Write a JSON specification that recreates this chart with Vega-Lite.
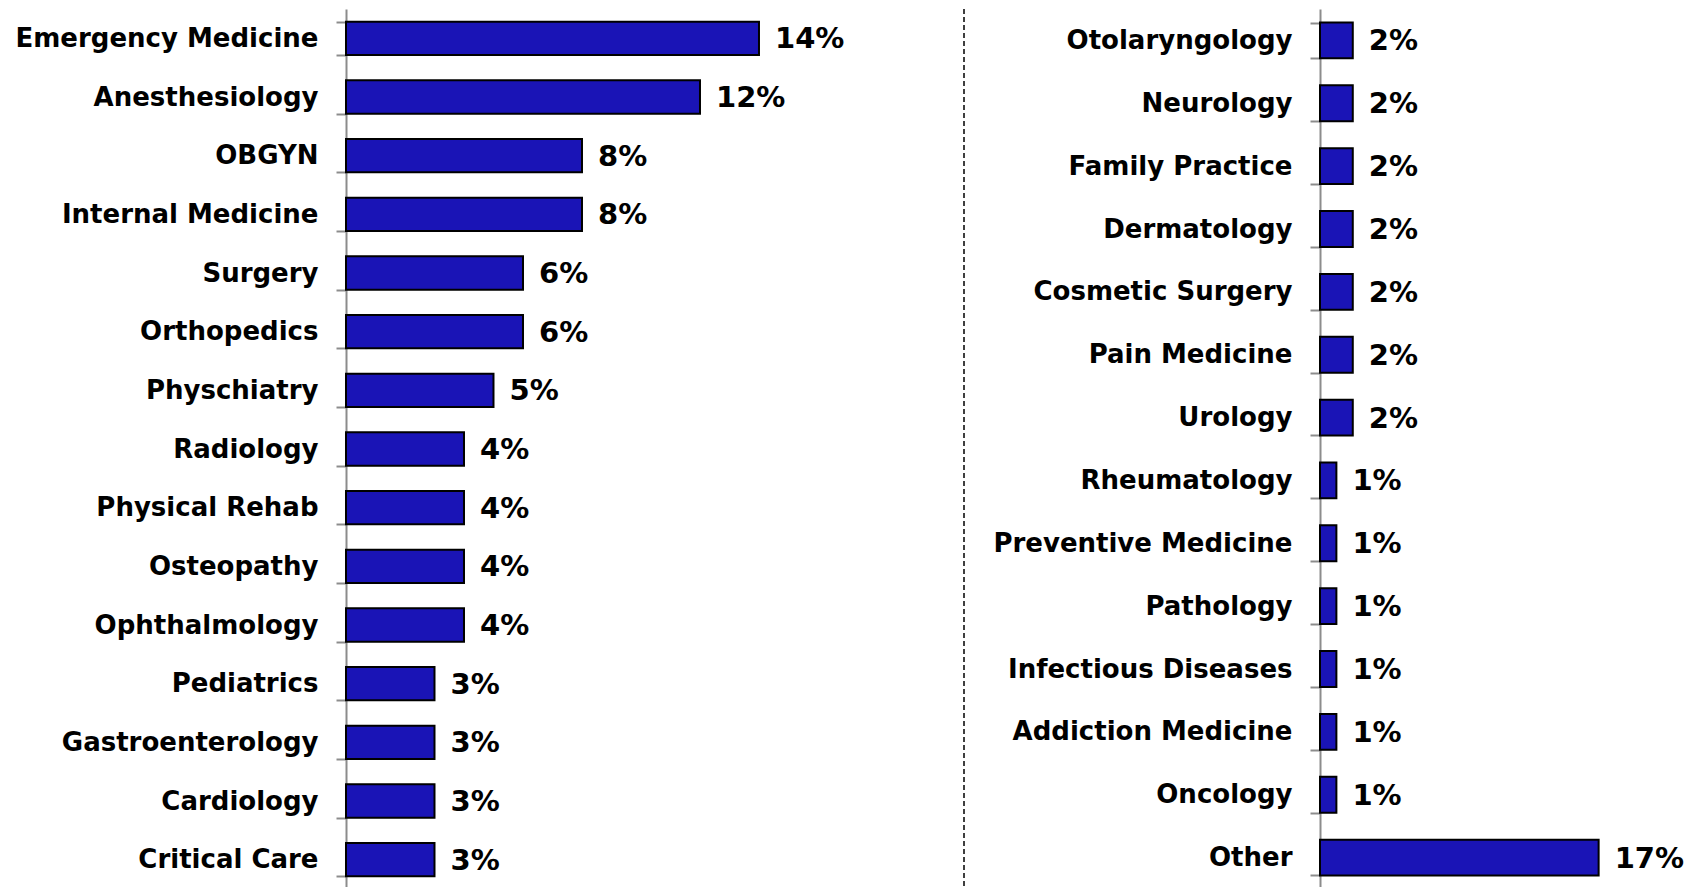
{
  "$schema": "https://vega.github.io/schema/vega-lite/v6.json",
  "background": "white",
  "padding": {"left": 15, "top": -4, "right": 0, "bottom": 0},
  "bounds": "flush",
  "spacing": 356,
  "config": {
    "view": {"stroke": null},
    "font": "DejaVu Sans",
    "axis": {
      "domainColor": "#8c8c8c",
      "domainWidth": 2,
      "tickColor": "#8c8c8c",
      "tickWidth": 2,
      "tickSize": 10,
      "tickBand": "extent",
      "labelPadding": 18,
      "labelFont": "DejaVu Sans",
      "labelFontWeight": "bold",
      "labelFontSize": 26,
      "labelColor": "black",
      "labelLimit": 0,
      "title": null
    }
  },
  "datasets": {
    "left": [
      {"specialty": "Emergency Medicine", "share": 0.14},
      {"specialty": "Anesthesiology", "share": 0.12},
      {"specialty": "OBGYN", "share": 0.08},
      {"specialty": "Internal Medicine", "share": 0.08},
      {"specialty": "Surgery", "share": 0.06},
      {"specialty": "Orthopedics", "share": 0.06},
      {"specialty": "Physchiatry", "share": 0.05},
      {"specialty": "Radiology", "share": 0.04},
      {"specialty": "Physical Rehab", "share": 0.04},
      {"specialty": "Osteopathy", "share": 0.04},
      {"specialty": "Ophthalmology", "share": 0.04},
      {"specialty": "Pediatrics", "share": 0.03},
      {"specialty": "Gastroenterology", "share": 0.03},
      {"specialty": "Cardiology", "share": 0.03},
      {"specialty": "Critical Care", "share": 0.03}
    ],
    "right": [
      {"specialty": "Otolaryngology", "share": 0.02},
      {"specialty": "Neurology", "share": 0.02},
      {"specialty": "Family Practice", "share": 0.02},
      {"specialty": "Dermatology", "share": 0.02},
      {"specialty": "Cosmetic Surgery", "share": 0.02},
      {"specialty": "Pain Medicine", "share": 0.02},
      {"specialty": "Urology", "share": 0.02},
      {"specialty": "Rheumatology", "share": 0.01},
      {"specialty": "Preventive Medicine", "share": 0.01},
      {"specialty": "Pathology", "share": 0.01},
      {"specialty": "Infectious Diseases", "share": 0.01},
      {"specialty": "Addiction Medicine", "share": 0.01},
      {"specialty": "Oncology", "share": 0.01},
      {"specialty": "Other", "share": 0.17}
    ]
  },
  "hconcat": [
    {
      "width": 618,
      "height": 880,
      "layer": [
        {
          "data": {"name": "left"},
          "mark": {"type": "bar", "color": "#1a14b6", "stroke": "black", "strokeWidth": 2},
          "encoding": {
            "y": {"field": "specialty", "type": "nominal", "sort": null, "scale": {"paddingInner": 0.433, "paddingOuter": 0.2165}},
            "x": {"field": "share", "type": "quantitative", "scale": {"domain": [0, 0.2095], "nice": false}, "axis": null}
          }
        },
        {
          "data": {"name": "left"},
          "mark": {"type": "text", "align": "left", "baseline": "middle", "dx": 16, "dy": 1, "font": "DejaVu Sans", "fontWeight": "bold", "fontSize": 29, "color": "black"},
          "encoding": {
            "y": {"field": "specialty", "type": "nominal", "sort": null},
            "x": {"field": "share", "type": "quantitative"},
            "text": {"field": "share", "type": "quantitative", "format": ".0%"}
          }
        },
        {
          "data": {"values": [{}]},
          "mark": {"type": "rule", "color": "black", "strokeWidth": 1.5, "strokeDash": [5, 3]},
          "encoding": {"x": {"datum": 0.2095}}
        }
      ]
    },
    {
      "width": 375,
      "height": 880,
      "layer": [
        {
          "data": {"name": "right"},
          "mark": {"type": "bar", "color": "#1a14b6", "stroke": "black", "strokeWidth": 2},
          "encoding": {
            "y": {"field": "specialty", "type": "nominal", "sort": null, "scale": {"paddingInner": 0.43, "paddingOuter": 0.215}},
            "x": {"field": "share", "type": "quantitative", "scale": {"domain": [0, 0.2288], "nice": false}, "axis": null}
          }
        },
        {
          "data": {"name": "right"},
          "mark": {"type": "text", "align": "left", "baseline": "middle", "dx": 16, "dy": 1, "font": "DejaVu Sans", "fontWeight": "bold", "fontSize": 29, "color": "black"},
          "encoding": {
            "y": {"field": "specialty", "type": "nominal", "sort": null},
            "x": {"field": "share", "type": "quantitative"},
            "text": {"field": "share", "type": "quantitative", "format": ".0%"}
          }
        }
      ]
    }
  ]
}
